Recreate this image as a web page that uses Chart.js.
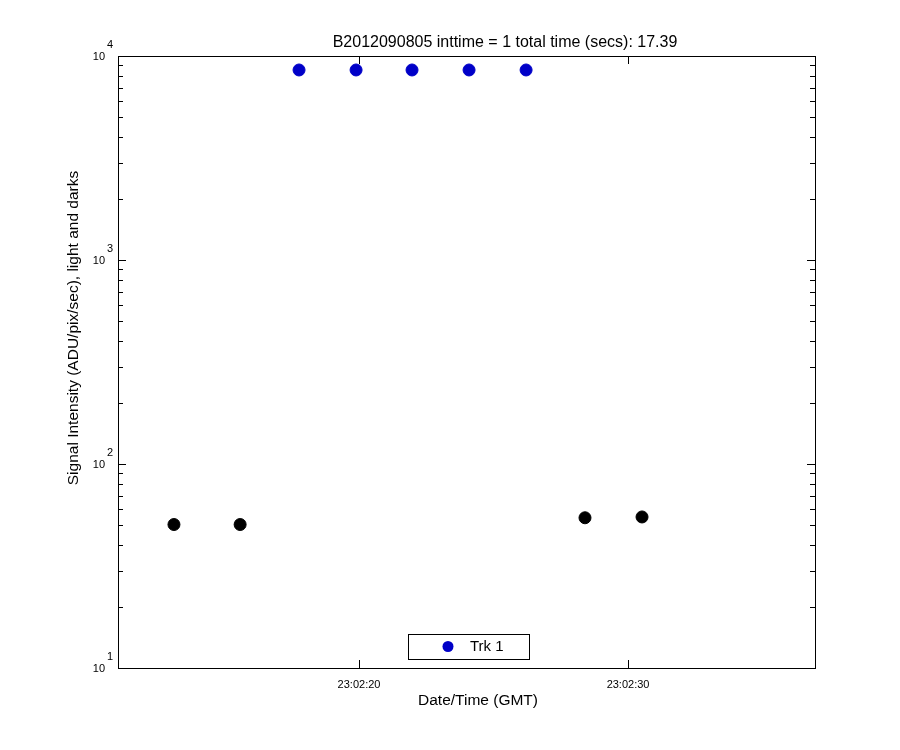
<!DOCTYPE html>
<html>
<head>
<meta charset="utf-8">
<script src="https://cdn.jsdelivr.net/npm/chart.js@4/dist/chart.umd.min.js"></script>
<style>
  html, body { margin: 0; padding: 0; background: #fff; }
  #wrap { width: 900px; height: 750px; }
</style>
</head>
<body>
<div id="wrap"><canvas id="c" width="900" height="750"></canvas></div>
<script>
// seconds after 23:02:00 GMT
var lightTimes = [17.77, 19.89, 21.97, 24.09, 26.21];
var lightValues = [8540, 8540, 8540, 8540, 8540];
var darkTimes = [13.12, 15.58, 28.40, 30.52];
var darkValues = [50.5, 50.5, 54.5, 55.0];
var xTicks = [20, 30];
var xRange = [11.04, 36.95];
var yDecades = [10, 100, 1000, 10000];
var titleText = 'B2012090805 inttime = 1 total time (secs): 17.39';
var xTitle = 'Date/Time (GMT)';
var yTitle = 'Signal Intensity (ADU/pix/sec), light and darks';

function pts(xs, ys) {
  var out = [];
  for (var i = 0; i < xs.length; i++) out.push({x: xs[i], y: ys[i]});
  return out;
}
function timeLabel(v) {
  var s = Math.round(v);
  return '23:02:' + (s < 10 ? '0' + s : s);
}

var FONT = '"Liberation Sans", Arial, sans-serif';

var matlabAxes = {
  id: 'matlabAxes',
  afterDraw: function(chart) {
    var ctx = chart.ctx, a = chart.chartArea;
    var xs = chart.scales.x, ys = chart.scales.y;
    ctx.save();
    ctx.strokeStyle = '#000';
    ctx.lineWidth = 1;
    ctx.strokeRect(Math.round(a.left) + 0.5, Math.round(a.top) + 0.5,
      Math.round(a.right - a.left), Math.round(a.bottom - a.top));

    ctx.beginPath();
    // x ticks, inward, bottom and top
    xTicks.forEach(function(t) {
      var px = Math.round(xs.getPixelForValue(t)) + 0.5;
      ctx.moveTo(px, a.bottom); ctx.lineTo(px, a.bottom - 8);
      ctx.moveTo(px, a.top); ctx.lineTo(px, a.top + 8);
    });
    // y ticks, major and minor, left and right
    yDecades.forEach(function(d, i) {
      var py = Math.round(ys.getPixelForValue(d)) + 0.5;
      ctx.moveTo(a.left, py); ctx.lineTo(a.left + 8, py);
      ctx.moveTo(a.right, py); ctx.lineTo(a.right - 8, py);
      if (i < yDecades.length - 1) {
        for (var m = 2; m <= 9; m++) {
          var q = Math.round(ys.getPixelForValue(m * d)) + 0.5;
          ctx.moveTo(a.left, q); ctx.lineTo(a.left + 5, q);
          ctx.moveTo(a.right, q); ctx.lineTo(a.right - 5, q);
        }
      }
    });
    ctx.stroke();

    ctx.fillStyle = '#000';
    // x tick labels
    ctx.font = '11px ' + FONT;
    ctx.textAlign = 'center';
    ctx.textBaseline = 'top';
    xTicks.forEach(function(t) {
      ctx.fillText(timeLabel(t), xs.getPixelForValue(t), a.bottom + 11);
    });
    // y tick labels: 10 with exponent
    yDecades.forEach(function(d) {
      var py = ys.getPixelForValue(d);
      ctx.font = '11px ' + FONT;
      ctx.textAlign = 'right';
      ctx.textBaseline = 'middle';
      ctx.fillText('10', a.left - 13, py + 1);
      ctx.textAlign = 'left';
      ctx.fillText(String(Math.round(Math.log10(d))), a.left - 11, py - 11);
    });

    // titles
    ctx.font = '16px ' + FONT;
    ctx.textAlign = 'center';
    ctx.textBaseline = 'alphabetic';
    ctx.fillText(titleText, 505, 47);
    ctx.font = '15.5px ' + FONT;
    ctx.fillText(xTitle, 478, 705);
    ctx.save();
    ctx.translate(78, 328);
    ctx.rotate(-Math.PI / 2);
    ctx.fillText(yTitle, 0, 0);
    ctx.restore();

    // legend box
    var lx = 408, ly = 634, lw = 121, lh = 25;
    ctx.fillStyle = '#fff';
    ctx.fillRect(lx, ly, lw, lh);
    ctx.strokeRect(lx + 0.5, ly + 0.5, lw, lh);
    var ds = chart.data.datasets[0];
    ctx.fillStyle = ds.backgroundColor;
    ctx.beginPath();
    ctx.arc(448, ly + 12.5, 5.5, 0, Math.PI * 2);
    ctx.fill();
    ctx.fillStyle = '#000';
    ctx.font = '15px ' + FONT;
    ctx.textAlign = 'left';
    ctx.textBaseline = 'middle';
    ctx.fillText(ds.label, 470, ly + 13);
    ctx.restore();
  }
};

new Chart(document.getElementById('c'), {
  type: 'scatter',
  data: {
    datasets: [
      {
        label: 'Trk 1',
        data: pts(lightTimes, lightValues),
        backgroundColor: '#0000c8',
        borderColor: '#0000c8',
        pointRadius: 6,
        pointHoverRadius: 6
      },
      {
        label: 'darks',
        data: pts(darkTimes, darkValues),
        backgroundColor: '#000',
        borderColor: '#000',
        pointRadius: 6,
        pointHoverRadius: 6
      }
    ]
  },
  options: {
    responsive: false,
    animation: false,
    layout: { padding: { left: 118, top: 56, right: 85, bottom: 82 } },
    plugins: { legend: { display: false }, tooltip: { enabled: false } },
    scales: {
      x: { type: 'linear', min: xRange[0], max: xRange[1], display: false },
      y: { type: 'logarithmic', min: 10, max: 10000, display: false }
    }
  },
  plugins: [matlabAxes]
});
</script>
</body>
</html>
